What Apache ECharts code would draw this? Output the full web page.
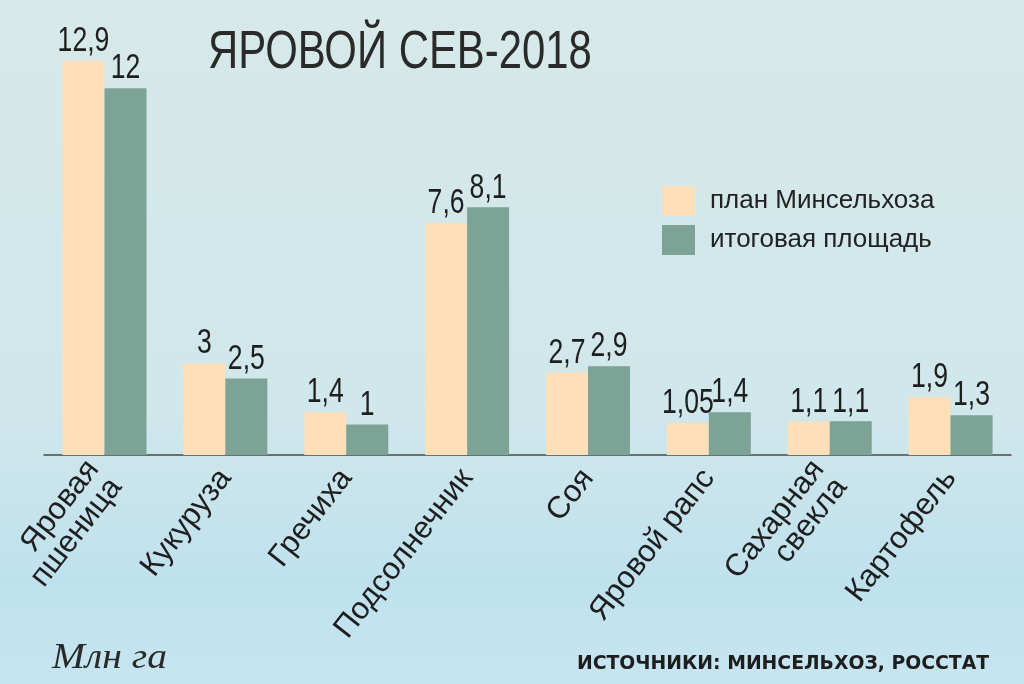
<!DOCTYPE html>
<html>
<head>
<meta charset="utf-8">
<script src="https://cdn.jsdelivr.net/npm/echarts@6/dist/echarts.min.js"></script>
<style>
html,body{margin:0;padding:0;}
#chart{width:1024px;height:684px;}
</style>
</head>
<body>
<div id="chart"></div>
<script>
const categories = ['Яровая\nпшеница','Кукуруза','Гречиха','Подсолнечник','Соя','Яровой рапс','Сахарная\nсвекла','Картофель'];
const planValues = [12.9, 3, 1.4, 7.6, 2.7, 1.05, 1.1, 1.9];
const actualValues = [12, 2.5, 1, 8.1, 2.9, 1.4, 1.1, 1.3];
const seriesNames = ['план Минсельхоза', 'итоговая площадь'];
const titleText = 'ЯРОВОЙ СЕВ-2018';
const unitText = 'Млн га';
const sourceText = 'ИСТОЧНИКИ: МИНСЕЛЬХОЗ, РОССТАТ';

const regular = '"Liberation Sans", Arial, sans-serif';
const BAR_W = 42;
const fmtNum = v => String(v).replace('.', ',');

function labelSeries(values, side) {
  return {
    type: 'custom',
    data: values.map((v, i) => [i, v]),
    silent: true,
    z: 5,
    renderItem: function (params, api) {
      const pt = api.coord([api.value(0), api.value(1)]);
      return {
        type: 'text',
        x: pt[0] + side * BAR_W / 2,
        y: pt[1] - 2,
        scaleX: 0.76,
        style: {
          text: fmtNum(api.value(1)),
          font: '35px "Liberation Sans", Arial, sans-serif',
          fill: '#1e1e1e',
          align: 'center',
          verticalAlign: 'bottom'
        }
      };
    }
  };
}

const chart = echarts.init(document.getElementById('chart'));
chart.setOption({
  animation: false,
  backgroundColor: {
    type: 'linear', x: 0, y: 0, x2: 0, y2: 1,
    colorStops: [
      {offset: 0, color: '#d7e9e9'},
      {offset: 0.6, color: '#d0e7eb'},
      {offset: 0.85, color: '#bfe1ee'},
      {offset: 1, color: '#c6e5f0'}
    ]
  },
  legend: {
    data: seriesNames,
    orient: 'vertical', left: 657, top: 181,
    itemWidth: 33, itemHeight: 30, itemGap: 9,
    icon: 'rect',
    textStyle: {fontFamily: regular, fontSize: 26, color: '#222', padding: [0,0,0,10]}
  },
  grid: {left: 44, right: 13, top: 27, bottom: 229},
  xAxis: {
    type: 'category', data: categories,
    axisLine: {lineStyle: {color: '#4a4a4a', width: 1.5}},
    axisTick: {show: false},
    axisLabel: {interval: 0, rotate: 52, margin: 18, fontFamily: regular, fontSize: 31, color: '#1e1e1e', lineHeight: 29}
  },
  yAxis: {type: 'value', min: 0, max: 14, show: false, splitLine: {show: false}},
  series: [
    {
      name: seriesNames[0], type: 'bar', data: planValues, barWidth: BAR_W, barGap: '0%',
      itemStyle: {color: '#fde0ba'}
    },
    {
      name: seriesNames[1], type: 'bar', data: actualValues, barWidth: BAR_W,
      itemStyle: {color: '#7ca395'}
    },
    labelSeries(planValues, -1),
    labelSeries(actualValues, 1)
  ],
  graphic: [
    {type: 'text', x: 208, y: 27, scaleX: 0.79, style: {text: titleText, font: '53px "Liberation Sans", Arial, sans-serif', fill: '#2a2a2a', verticalAlign: 'top'}},
    {type: 'text', x: 52, y: 641, scaleX: 1.1, style: {text: unitText, font: 'italic 36px "Liberation Serif", "DejaVu Serif", serif', fill: '#2a2a2a', verticalAlign: 'top'}},
    {type: 'text', x: 989, y: 654, scaleX: 0.94, style: {text: sourceText, font: 'bold 20px "DejaVu Sans", sans-serif', fill: '#1e1e1e', align: 'right', verticalAlign: 'top'}}
  ]
});
</script>
</body>
</html>
